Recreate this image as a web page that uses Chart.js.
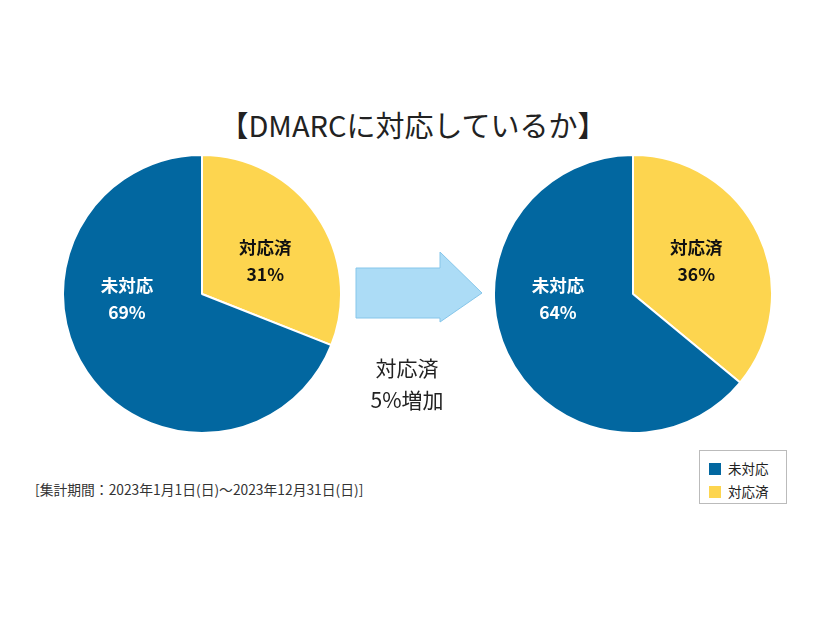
<!DOCTYPE html>
<html>
<head>
<meta charset="utf-8">
<script src="https://cdn.jsdelivr.net/npm/chart.js@4/dist/chart.umd.min.js"></script>
<style>
  body { margin:0; background:#fff; font-family:"Noto Sans CJK JP", sans-serif; }
  #wrap { position:relative; width:826px; height:620px; }
  .pie { position:absolute; top:154px; width:280px; height:280px; }
  #title { position:absolute; top:103px; left:0; width:826px; text-align:center; font-size:29px; color:#222; }
  #note { position:absolute; left:407px; top:352px; width:0; }
  #note div { position:absolute; left:-80px; width:160px; text-align:center; font-size:21px; color:#222; white-space:nowrap; }
  #period { position:absolute; left:35px; top:479px; font-size:13.8px; color:#333; }
  #legend { position:absolute; left:699px; top:450px; width:88px; height:54px; border:1px solid #bbb; box-sizing:border-box; padding:6px 0 0 9px; font-size:13.5px; color:#222; }
  #legend .item { height:23px; line-height:23px; }
  #legend .sw { display:inline-block; width:12px; height:12px; margin-right:7px; vertical-align:-1px; }
  svg { position:absolute; left:0; top:0; }
</style>
</head>
<body>
<div id="wrap">
  <div id="title"></div>
  <svg width="826" height="620">
    <polygon points="356,268 440,268 440,252 482,293 440,322 440,318 356,318" fill="#acdcf6" stroke="#86c6ea" stroke-width="1"/>
  </svg>
  <div class="pie" style="left:62px"><canvas id="pieBefore"></canvas></div>
  <div class="pie" style="left:493px"><canvas id="pieAfter"></canvas></div>
  <div id="note"></div>
  <div id="period"></div>
  <div id="legend"></div>
</div>
<script>
// 凡例の並び: 未対応, 対応済 (グラフ内は対応済から時計回り)
const categories = ["対応済", "未対応"];
const beforeValues = [31, 69];
const afterValues = [36, 64];
const colors = ["#fdd54f", "#0267a0"];
const labelColors = ["#111", "#fff"];
const titleText = "【DMARCに対応しているか】";
const noteLines = ["対応済", "5%増加"];
const periodText = "[集計期間：2023年1月1日(日)～2023年12月31日(日)]";

document.getElementById("title").textContent = titleText;
document.getElementById("period").textContent = periodText;
const noteEl = document.getElementById("note");
noteLines.forEach((t, i) => {
  const d = document.createElement("div");
  d.style.top = (i * 32) + "px";
  d.textContent = t;
  noteEl.appendChild(d);
});
const legendEl = document.getElementById("legend");
categories.slice().reverse().forEach((c) => {
  const i = categories.indexOf(c);
  legendEl.innerHTML += `<div class="item"><span class="sw" style="background:${colors[i]}"></span>${c}</div>`;
});

// ラベル位置 (半径に対する割合)
const labelPos = [[0.455, -0.245], [-0.54, 0.03]];

const sliceLabels = {
  id: "sliceLabels",
  afterDatasetsDraw(chart) {
    const ctx = chart.ctx;
    const meta = chart.getDatasetMeta(0);
    ctx.save();
    ctx.textAlign = "center";
    ctx.textBaseline = "middle";
    ctx.font = "bold 17.5px 'Noto Sans CJK JP'";
    meta.data.forEach((arc, i) => {
      const r = arc.outerRadius;
      const x = arc.x + labelPos[i][0] * r;
      const y = arc.y + labelPos[i][1] * r;
      ctx.fillStyle = labelColors[i];
      ctx.fillText(categories[i], x, y - 13);
      ctx.fillText(chart.data.datasets[0].data[i] + "%", x, y + 14);
    });
    ctx.restore();
  }
};

const makePie = (id, values) => new Chart(id, {
  type: "pie",
  data: {
    labels: categories,
    datasets: [{ data: values, backgroundColor: colors, borderColor: "#fff", borderWidth: 2 }]
  },
  options: {
    responsive: true,
    maintainAspectRatio: false,
    animation: false,
    layout: { padding: 0 },
    plugins: { legend: { display: false }, tooltip: { enabled: false } }
  },
  plugins: [sliceLabels]
});

makePie("pieBefore", beforeValues);
makePie("pieAfter", afterValues);
</script>
</body>
</html>
